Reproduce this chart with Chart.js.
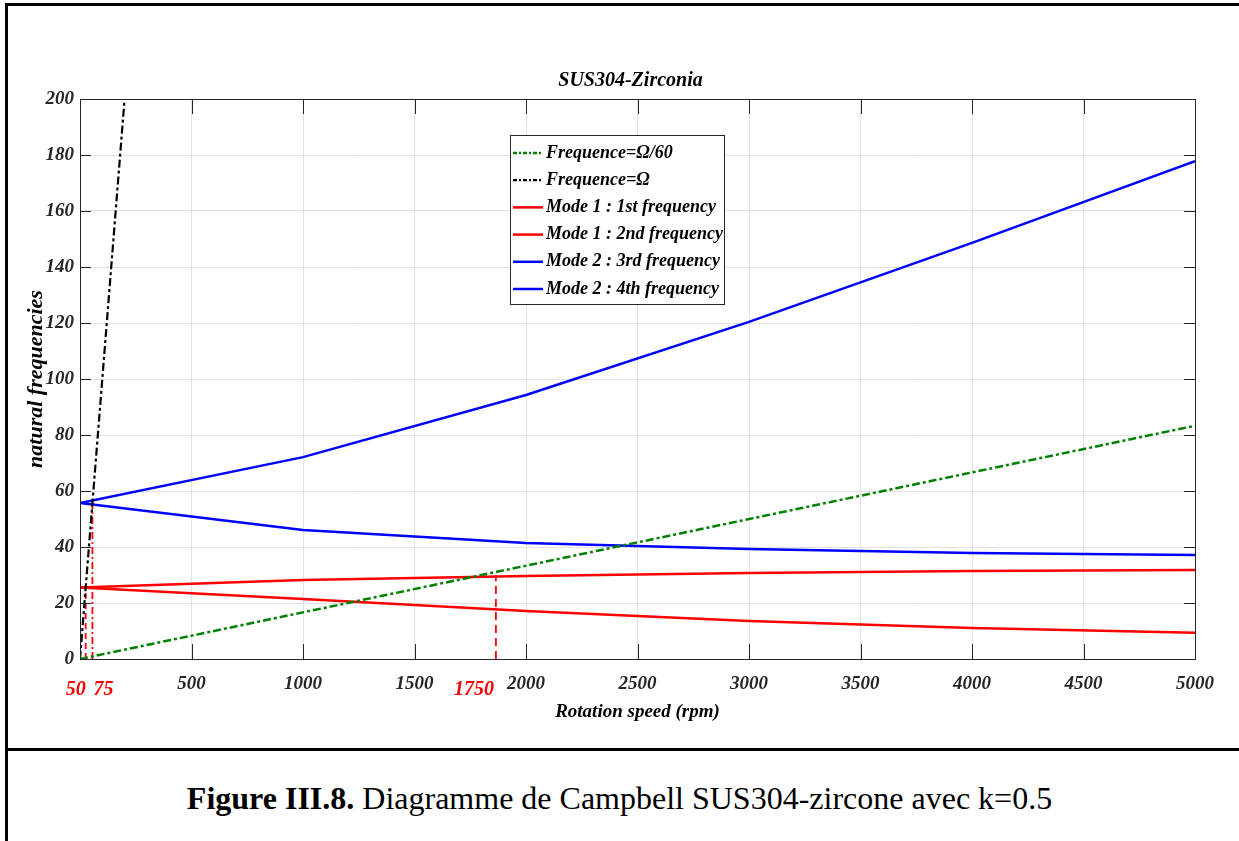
<!DOCTYPE html>
<html>
<head>
<meta charset="utf-8">
<script src="https://cdn.jsdelivr.net/npm/chart.js@4.4.1/dist/chart.umd.min.js"></script>
<style>
  html, body { margin: 0; padding: 0; background: #fff; }
  body { width: 1239px; height: 841px; position: relative; overflow: hidden; }
  #chart { position: absolute; left: 0; top: 0; }
  .rule { position: absolute; background: #000; }
  #caption {
    position: absolute; left: 0; width: 1239px; top: 780px; text-align: center;
    font-family: "Liberation Serif", "Times New Roman", serif; font-size: 32px; color: #000;
    line-height: 36px;
  }
</style>
</head>
<body>
<div class="rule" style="left:5px;top:3px;width:3px;height:838px"></div>
<div class="rule" style="left:5px;top:3px;width:1234px;height:3px"></div>
<div class="rule" style="left:5px;top:748px;width:1234px;height:3px"></div>
<canvas id="chart" width="1239" height="745"></canvas>
<div id="caption"><b>Figure III.8.</b> Diagramme de Campbell SUS304-zircone avec k=0.5</div>
<script>
// rotation speed (rpm) where the natural frequencies were computed
const speeds = [0, 1000, 2000, 3000, 4000, 5000]
const mode1First = [25.5, 21.4, 17.1, 13.6, 11.1, 9.4]
const mode1Second = [25.5, 28.2, 29.6, 30.7, 31.4, 31.8]
const mode2Third = [55.7, 72.1, 94.3, 120.4, 148.6, 177.8]
const mode2Fourth = [55.7, 46.1, 41.4, 39.3, 37.9, 37.1]

// excitation lines
const omega60Speeds = [0, 5000]
const omega60Values = [0, 83.3]
const omegaSpeeds = [0, 200]
const omegaValues = [0, 200]

// critical speed markers (vertical red lines) and their labels
const markerSpeeds = [25.5, 55.7, 1865]
const markerTops = [25.5, 55.7, 30]
const markerLabels = ["50", "75", "1750"]

const xTicksStep = 500
const yTicksStep = 20

const FONT = "'Liberation Serif', 'Times New Roman', serif"
const toXY = (xs, ys) => xs.map((x, i) => ({ x, y: ys[i] }))

const datasets = [
  { label: "Frequence=\u03A9/60", data: toXY(omega60Speeds, omega60Values), borderColor: "#008000", borderWidth: 2.5, borderDash: [8, 3, 3, 3] },
  { label: "Frequence=\u03A9", data: toXY(omegaSpeeds, omegaValues), borderColor: "#000000", borderWidth: 2.2, borderDash: [8, 3, 3, 3] },
  { label: "Mode 1 : 1st frequency", data: toXY(speeds, mode1First), borderColor: "#ff0000", borderWidth: 2.5 },
  { label: "Mode 1 : 2nd frequency", data: toXY(speeds, mode1Second), borderColor: "#ff0000", borderWidth: 2.5 },
  { label: "Mode 2 : 3rd frequency", data: toXY(speeds, mode2Third), borderColor: "#0000ff", borderWidth: 2.5 },
  { label: "Mode 2 : 4th frequency", data: toXY(speeds, mode2Fourth), borderColor: "#0000ff", borderWidth: 2.5 }
]
const markerDashes = [[6, 4], [7, 3, 2, 3], [8, 5]]
markerSpeeds.forEach((s, i) => {
  datasets.push({ label: "", marker: true, data: [{ x: s, y: 0 }, { x: s, y: markerTops[i] }], borderColor: "#ff0000", borderWidth: 1.8, borderDash: markerDashes[i] })
})
datasets.forEach(d => { d.showLine = true; d.pointRadius = 0; d.fill = false; d.tension = 0 })

const matlabFrame = {
  id: "matlabFrame",
  afterDatasetsDraw(chart) {
    const { ctx, chartArea: a, scales: { x, y } } = chart
    ctx.save()
    // box
    ctx.strokeStyle = "#262626"
    ctx.lineWidth = 1
    ctx.strokeRect(a.left + 0.5, a.top + 0.5, a.right - a.left, a.bottom - a.top)
    // inward ticks
    ctx.beginPath()
    for (let v = xTicksStep; v < x.max; v += xTicksStep) {
      const px = Math.round(x.getPixelForValue(v)) + 0.5
      ctx.moveTo(px, a.bottom); ctx.lineTo(px, a.bottom - 15)
      ctx.moveTo(px, a.top); ctx.lineTo(px, a.top + 15)
    }
    for (let v = yTicksStep; v < y.max; v += yTicksStep) {
      const py = Math.round(y.getPixelForValue(v)) + 0.5
      ctx.moveTo(a.left, py); ctx.lineTo(a.left + 11, py)
      ctx.moveTo(a.right, py); ctx.lineTo(a.right - 11, py)
    }
    ctx.stroke()

    // legend
    const items = chart.data.datasets.filter(d => !d.marker)
    const lx = 510, ly = 135, lw = 214, lh = 169
    ctx.fillStyle = "#fff"
    ctx.fillRect(lx, ly, lw, lh)
    ctx.strokeStyle = "#262626"
    ctx.strokeRect(lx + 0.5, ly + 0.5, lw, lh)
    ctx.font = "italic bold 18px " + FONT
    ctx.textBaseline = "middle"
    ctx.textAlign = "left"
    items.forEach((d, i) => {
      const cy = ly + 18 + i * 27.2
      ctx.beginPath()
      ctx.strokeStyle = d.borderColor
      ctx.lineWidth = d.borderWidth
      ctx.setLineDash(d.borderDash ? [4, 2, 2, 2] : [])
      ctx.moveTo(lx + 3, cy); ctx.lineTo(lx + 33, cy)
      ctx.stroke()
      ctx.setLineDash([])
      ctx.fillStyle = "#000"
      ctx.fillText(d.label, lx + 36, cy)
    })

    // titles
    ctx.fillStyle = "#000"
    ctx.textAlign = "center"
    ctx.font = "italic bold 20px " + FONT
    ctx.fillText("SUS304-Zirconia", (a.left + a.right) / 2 - 7, 81)
    ctx.font = "italic bold 19px " + FONT
    ctx.fillText("Rotation speed (rpm)", (a.left + a.right) / 2, 712)
    ctx.save()
    ctx.translate(36, (a.top + a.bottom) / 2)
    ctx.rotate(-Math.PI / 2)
    ctx.font = "italic bold 22px " + FONT
    ctx.fillText("natural frequencies", 0, 0)
    ctx.restore()

    // red critical speed labels
    ctx.fillStyle = "#ff0000"
    ctx.font = "italic bold 20px " + FONT
    const offsets = [-10, 11, -22]
    markerSpeeds.forEach((s, i) => {
      ctx.fillText(markerLabels[i], x.getPixelForValue(s) + offsets[i], 690)
    })
    ctx.restore()
  }
}

new Chart(document.getElementById("chart"), {
  type: "scatter",
  data: { datasets },
  plugins: [matlabFrame],
  options: {
    responsive: false,
    animation: false,
    devicePixelRatio: 1,
    layout: { padding: { top: 99, left: 40, right: 44, bottom: 0 } },
    plugins: { legend: { display: false }, tooltip: { enabled: false }, title: { display: false } },
    scales: {
      x: {
        type: "linear", min: 0, max: 5000,
        afterFit: s => { s.height = 86 },
        grid: { color: "#e2e2e2", drawTicks: false },
        border: { color: "#262626" },
        ticks: {
          stepSize: xTicksStep, padding: 14, color: "#262626",
          font: { family: FONT, size: 19, style: "italic", weight: "bold" },
          callback: v => (v === 0 ? "" : v)
        }
      },
      y: {
        min: 0, max: 200,
        afterFit: s => { s.width = 40 },
        grid: { color: "#e2e2e2", drawTicks: false },
        border: { color: "#262626" },
        ticks: {
          stepSize: yTicksStep, padding: 6, color: "#262626",
          font: { family: FONT, size: 19, style: "italic", weight: "bold" }
        }
      }
    }
  }
})
</script>
</body>
</html>
